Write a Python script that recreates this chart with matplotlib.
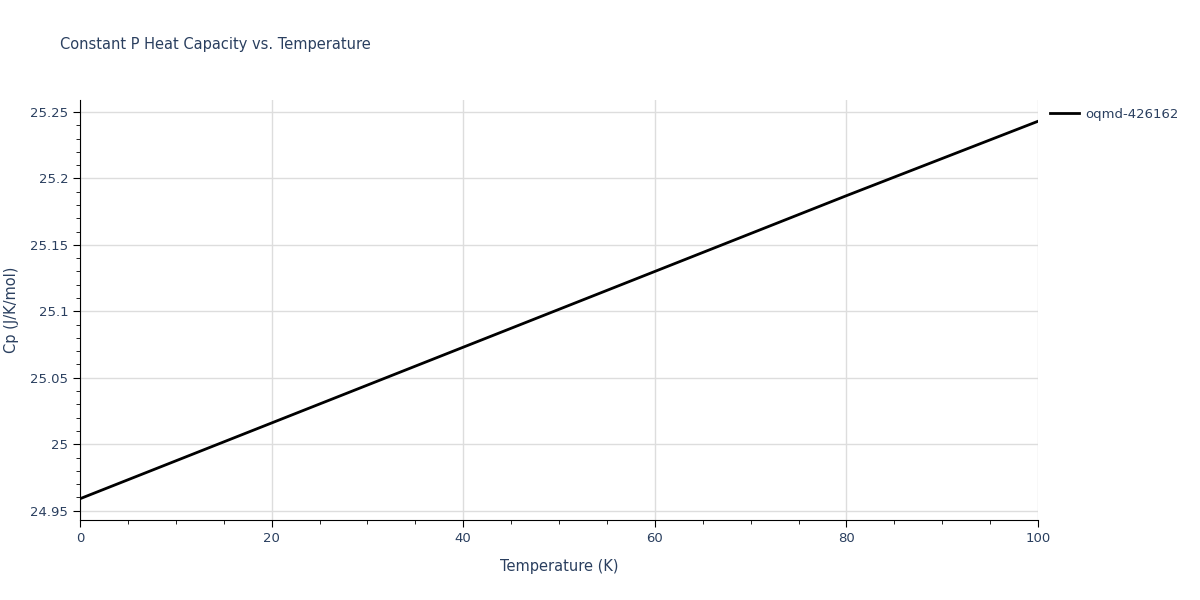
import matplotlib.pyplot as plt
from matplotlib.ticker import MultipleLocator, FuncFormatter

# values
temperature = [0, 20, 40, 60, 80, 100]
cp = [24.959, 25.016, 25.073, 25.130, 25.187, 25.243]

fig = plt.figure(figsize=(12, 6), dpi=100)
ax = fig.add_axes([80 / 1200, 80 / 600, 958 / 1200, 420 / 600])

ax.plot(temperature, cp, color="black", lw=2, label="oqmd-426162")

ax.set_xlim(0, 100)
ax.set_ylim(24.943, 25.259)
ax.xaxis.set_major_locator(MultipleLocator(20))
ax.xaxis.set_minor_locator(MultipleLocator(5))
ax.yaxis.set_major_locator(MultipleLocator(0.05))
ax.yaxis.set_minor_locator(MultipleLocator(0.01))
ax.yaxis.set_major_formatter(FuncFormatter(lambda v, p: f"{v:.2f}".rstrip("0").rstrip(".")))

ax.grid(True, which="major", color="#dddddd", lw=1)
for s in ["top", "right"]:
    ax.spines[s].set_visible(False)
for s in ["left", "bottom"]:
    ax.spines[s].set_color("black")

txt = "#2a3f5f"
ax.tick_params(which="major", length=5, colors="black", labelcolor=txt, labelsize=9.5)
ax.tick_params(which="minor", length=3, colors="black")
ax.set_xlabel("Temperature (K)", color=txt, fontsize=10.5, labelpad=10)
ax.set_ylabel("Cp (J/K/mol)", color=txt, fontsize=10.5, labelpad=8)
fig.text(60 / 1200, 1 - 45 / 600, "Constant P Heat Capacity vs. Temperature",
         color=txt, fontsize=10.5, va="center")

leg = ax.legend(loc="upper left", bbox_to_anchor=(1.0, 1.01), frameon=False,
                fontsize=9.5, handlelength=2.2, handletextpad=0.5)
for t in leg.get_texts():
    t.set_color(txt)

fig.savefig("out.png")
